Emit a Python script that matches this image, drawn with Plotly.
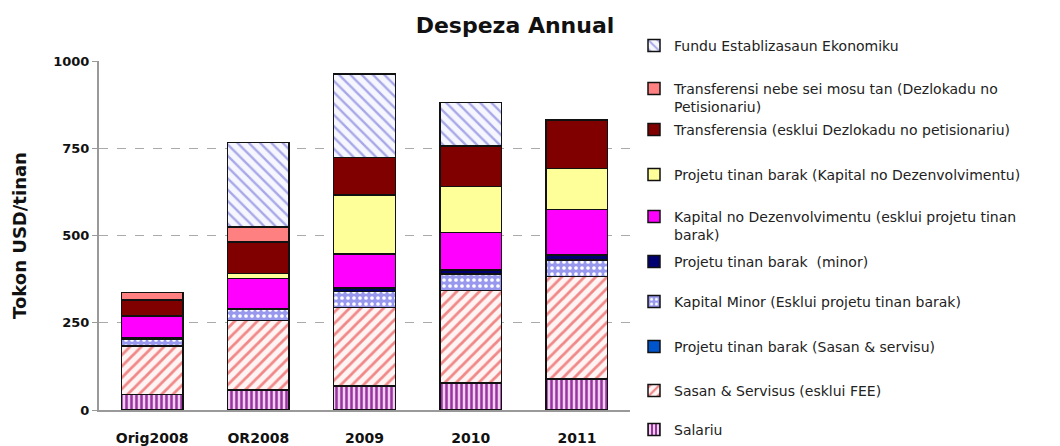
import plotly.graph_objects as go

categories = ["Orig2008", "OR2008", "2009", "2010", "2011"]

salariu = [45, 57, 69, 77, 89]
sasan = [139, 199, 225, 265, 293]
projetu_sasan = [0, 0, 0, 0, 0]
kapital_minor = [19, 32, 45, 47, 48]
projetu_minor = [5, 3, 11, 12, 14]
kapital_dez = [61, 86, 97, 107, 131]
projetu_kapital = [0, 14, 169, 132, 117]
transferensia = [46, 91, 108, 116, 139]
transferensi_nebe = [21, 43, 0, 0, 0]
fundu = [0, 242, 239, 125, 0]

tick_vals = [0, 250, 500, 750, 1000]
tick_text = ["0", "250", "500", "750", "1000"]

series = [
    ("Salariu", salariu, dict(shape="|", fgcolor="#9933a0", bgcolor="#f0d0f0", size=5, solidity=0.5), None, 434),
    ("Sasan & Servisus (esklui FEE)", sasan, dict(shape="/", fgcolor="#f08888", bgcolor="#fff4f4", size=8, solidity=0.35), None, 391),
    ("Projetu tinan barak (Sasan & servisu)", projetu_sasan, None, "#0055cc", 347),
    ("Kapital Minor (Esklui projetu tinan barak)", kapital_minor, dict(shape=".", fgcolor="#ffffff", bgcolor="#9898ee", size=6, solidity=0.3), None, 302),
    ("Projetu tinan barak  (minor)", projetu_minor, None, "#000070", 262),
    ("Kapital no Dezenvolvimentu (esklui projetu tinan<br>barak)", kapital_dez, None, "#ff00ff", 217),
    ("Projetu tinan barak (Kapital no Dezenvolvimentu)", projetu_kapital, None, "#ffff99", 175),
    ("Transferensia (esklui Dezlokadu no petisionariu)", transferensia, None, "#800000", 130),
    ("Transferensi nebe sei mosu tan (Dezlokadu no<br>Petisionariu)", transferensi_nebe, None, "#ff8080", 89),
    ("Fundu Establizasaun Ekonomiku", fundu, dict(shape="\\", fgcolor="#a8a8e8", bgcolor="#f6f6ff", size=8, solidity=0.3), None, 46),
]

W, H = 1060, 446
fig = go.Figure()
layout_legends = {}
for i, (name, vals, pat, color, ly) in enumerate(series):
    lname = f"legend{i+2}"
    marker = dict(line=dict(color="#111111", width=1.5))
    if pat is not None:
        marker["color"] = pat["bgcolor"]
        marker["pattern"] = dict(fillmode="replace", **pat)
    else:
        marker["color"] = color
    fig.add_trace(go.Bar(
        x=categories, y=vals, name=name, marker=marker,
        legend=lname, width=0.58,
    ))
    if ly > 420:
        ypos, yanch = 0.0, "bottom"
    else:
        ypos, yanch = 1 - (ly - 16) / H, "top"
    layout_legends[lname] = dict(
        xref="container", yref="container",
        x=634 / W, y=ypos,
        xanchor="left", yanchor=yanch, valign="top",
        bgcolor="rgba(0,0,0,0)", borderwidth=0,
        font=dict(family="DejaVu Sans", size=14, color="#222222"),
        itemwidth=30, tracegroupgap=0,
    )

fig.update_layout(
    barmode="stack",
    width=W, height=H,
    margin=dict(l=99, r=W - 630, t=61, b=36, autoexpand=False),
    paper_bgcolor="white", plot_bgcolor="white",
    title=dict(text="<b>Despeza Annual</b>", x=515 / W, xanchor="center",
               y=1 - 25 / H, yanchor="middle",
               font=dict(family="DejaVu Sans", size=22, color="#111111")),
    bargap=0.42,
    **layout_legends,
)
fig.update_yaxes(
    range=[0, 1000], tickvals=tick_vals, ticktext=tick_text,
    showgrid=True, gridcolor="#aaaaaa", griddash="dash", gridwidth=1,
    showline=True, linecolor="#999999", linewidth=2,
    ticks="outside", ticklen=5, tickcolor="#999999",
    tickfont=dict(family="DejaVu Sans", size=13, color="#111111", weight="bold"),
    title=dict(text="Tokon USD/tinan", standoff=22,
               font=dict(family="DejaVu Sans", size=18, color="#111111", weight="bold")),
    zeroline=False, automargin=False,
)
fig.update_xaxes(
    showline=True, linecolor="#999999", linewidth=2,
    tickfont=dict(family="DejaVu Sans", size=14, color="#111111", weight="bold"),
    ticks="", ticklabelstandoff=14, automargin=False,
)

fig.write_html("out.html", config={"displayModeBar": False},
               post_script="document.body.style.margin='0';")
